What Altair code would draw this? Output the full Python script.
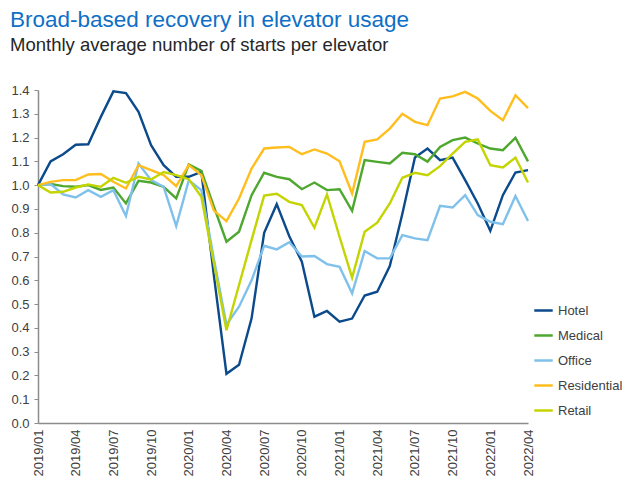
import altair as alt
import pandas as pd

months = [f"{y}/{m:02d}" for y in range(2019, 2023) for m in range(1, 13)][:40]
tick_months = months[::3]

series = ["Hotel", "Medical", "Office", "Residential", "Retail"]
colors = ["#0B4A8B", "#4EA72E", "#7FC1EA", "#FFBE1E", "#C3D400"]

hotel = [1.0, 1.10, 1.13, 1.17, 1.172, 1.287, 1.394, 1.387, 1.308, 1.168, 1.084, 1.035, 1.035, 1.056,
         0.62, 0.207, 0.245, 0.44, 0.80, 0.92, 0.785, 0.678, 0.447, 0.471, 0.426, 0.439, 0.536, 0.552,
         0.66, 0.88, 1.116, 1.154, 1.105, 1.116, 1.021, 0.923, 0.808, 0.958, 1.053, 1.063]
medical = [1.0, 1.005, 0.996, 0.993, 1.0, 0.98, 0.99, 0.923, 1.018, 1.011, 0.993, 0.944, 1.087, 1.06,
           0.91, 0.762, 0.804, 0.958, 1.052, 1.035, 1.025, 0.983, 1.011, 0.979, 0.983, 0.892, 1.105, 1.098,
           1.091, 1.136, 1.13, 1.099, 1.161, 1.189, 1.2, 1.175, 1.154, 1.147, 1.199, 1.10]
office = [1.0, 1.005, 0.961, 0.948, 0.979, 0.951, 0.979, 0.87, 1.091, 1.021, 0.993, 0.828, 1.02, 0.979,
          0.69, 0.413, 0.489, 0.60, 0.745, 0.73, 0.76, 0.70, 0.702, 0.668, 0.657, 0.545, 0.723, 0.692,
          0.692, 0.79, 0.776, 0.769, 0.913, 0.906, 0.958, 0.874, 0.846, 0.836, 0.954, 0.849]
residential = [1.0, 1.014, 1.021, 1.021, 1.045, 1.047, 1.014, 0.986, 1.084, 1.063, 1.042, 0.996, 1.084, 1.042,
               0.893, 0.849, 0.944, 1.07, 1.154, 1.158, 1.161, 1.13, 1.15, 1.133, 1.10, 0.965, 1.182, 1.192,
               1.238, 1.30, 1.266, 1.252, 1.364, 1.373, 1.392, 1.364, 1.312, 1.273, 1.378, 1.324]
retail = [1.0, 0.969, 0.972, 0.99, 1.003, 0.993, 1.031, 1.01, 1.035, 1.024, 1.055, 1.042, 1.025, 0.951,
          0.67, 0.39, 0.58, 0.77, 0.956, 0.964, 0.93, 0.916, 0.821, 0.961, 0.783, 0.611, 0.804, 0.842,
          0.923, 1.031, 1.052, 1.042, 1.08, 1.133, 1.182, 1.192, 1.084, 1.074, 1.116, 1.011]

values = {"Hotel": hotel, "Medical": medical, "Office": office,
          "Residential": residential, "Retail": retail}

rows = []
for s in series:
    for m, v in zip(months, values[s]):
        rows.append({"month": m, "series": s, "value": v})
df = pd.DataFrame(rows)

y_ticks = [round(i * 0.1, 1) for i in range(15)]

chart = alt.Chart(df).mark_line(strokeWidth=2.4).encode(
    x=alt.X("month:O", sort=months,
            scale=alt.Scale(type="point", padding=0),
            axis=alt.Axis(values=tick_months, labelAngle=-90, title=None, ticks=False,
                          labelFontSize=13, labelColor="#404040", labelPadding=6,
                          domainColor="#8C8C8C", domainWidth=1.5, labelFont="Liberation Sans")),
    y=alt.Y("value:Q", scale=alt.Scale(domain=[0, 1.4], nice=False, zero=True),
            axis=alt.Axis(values=y_ticks, format=".1f", title=None, grid=False,
                          tickSize=4, tickColor="#8C8C8C", tickWidth=1,
                          labelFontSize=13, labelColor="#404040", labelPadding=5,
                          domainColor="#8C8C8C", domainWidth=1.5, labelFont="Liberation Sans")),
    color=alt.Color("series:N", sort=series,
                    scale=alt.Scale(domain=series, range=colors),
                    legend=alt.Legend(title=None, orient="none", legendX=495, legendY=210,
                                      symbolType="stroke", symbolSize=340, symbolStrokeWidth=2.5,
                                      labelFontSize=13, labelColor="#404040", labelOffset=4,
                                      rowPadding=7, padding=0, labelFont="Liberation Sans")),
).properties(
    width=490,
    height=333,
    autosize=alt.AutoSizeParams(type="none"),
    padding={"left": 30, "top": 82, "right": 104, "bottom": 56},
    title=alt.TitleParams(
        text="Broad-based recovery in elevator usage",
        subtitle="Monthly average number of starts per elevator",
        anchor="start", frame="group", dx=-28, offset=30,
        font="Liberation Sans", fontSize=22.5, fontWeight="normal", color="#0F6FC6",
        subtitleFont="Liberation Sans", subtitleFontSize=18.5, subtitleColor="#262626",
        subtitlePadding=4,
    ),
).configure_view(stroke=None)

chart.save("out.html", embed_options={"renderer": "svg", "actions": False})
